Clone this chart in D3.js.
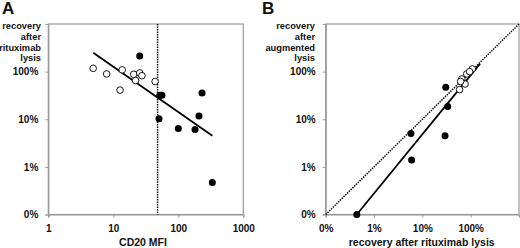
<!DOCTYPE html>
<html><head><meta charset="utf-8">
<script src="https://cdn.jsdelivr.net/npm/d3@7"></script>
<style>
body{margin:0;background:#fff;}
text{font-family:"Liberation Sans",Arial,sans-serif;font-weight:bold;fill:#111;}
</style></head>
<body><svg id="c" width="520" height="248"></svg>
<script>
// Panel A: CD20 MFI vs recovery after rituximab lysis (fraction, 1 = 100%)
const aOpenMFI = [4.9, 7.9, 12.7, 13.7, 20.6, 22, 25.5, 27.6, 44];
const aOpenRec = [1.17, 0.895, 0.41, 1.09, 0.88, 0.65, 0.94, 0.82, 0.62];
const aFilledMFI = [25.5, 52, 56, 232, 50.5, 208, 100, 181, 334];
const aFilledRec = [2.14, 0.32, 0.32, 0.355, 0.102, 0.117, 0.064, 0.061, 0.0047];
const aFitMFI = [4.92, 334];
const aFitRec = [2.48, 0.045];
const aCutoff = 48;
const aXTicks = [1, 10, 100, 1000];
const aXLabels = ["1", "10", "100", "1000"];
const yTicks = [0.001, 0.01, 0.1, 1];
const yLabels = ["0%", "1%", "10%", "100%"];

// Panel B: recovery after rituximab lysis vs after augmented lysis
const bOpenX = [1.08, 0.83, 0.655, 0.766, 0.59, 0.62, 0.95];
const bOpenY = [1.14, 0.895, 0.70, 0.55, 0.42, 0.62, 1.0];
const bFilledX = [0.305, 0.335, 0.058, 0.295, 0.06, 0.0044];
const bFilledY = [0.467, 0.186, 0.050, 0.045, 0.014, 0.001];
const bFitX = [0.0044, 1.57];
const bFitY = [0.001, 1.47];
const bXTicks = [0.001, 0.01, 0.1, 1];
const bXLabels = ["0%", "1%", "10%", "100%"];

const svg = d3.select("#c");

function panel(opts){
  const g = svg.append("g");
  const x = d3.scaleLog().domain(opts.xdom).range(opts.xr);
  const y = d3.scaleLog().domain([0.001, 10]).range([214.5, 24]);
  g.append("rect").attr("x", opts.xr[0]).attr("y", 24)
    .attr("width", opts.xr[1]-opts.xr[0]).attr("height", 214.5-24)
    .attr("fill","none").attr("stroke","#9a9a9a").attr("stroke-width",1.2);
  const ya = g.append("g").attr("transform",`translate(${opts.xr[0]},0)`)
    .call(d3.axisLeft(y).tickValues(yTicks).tickFormat((d,i)=>yLabels[i]).tickSize(3).tickPadding(5));
  const xa = g.append("g").attr("transform",`translate(0,214.5)`)
    .call(d3.axisBottom(x).tickValues(opts.xticks).tickFormat((d,i)=>opts.xlabels[i]).tickSize(3).tickPadding(7));
  [ya,xa].forEach(a=>{
    a.select(".domain").attr("stroke","#9a9a9a").attr("stroke-width",1.2);
    a.selectAll(".tick line").attr("stroke","#9a9a9a");
    a.selectAll("text").attr("font-size",10).attr("font-family","Liberation Sans, Arial, sans-serif").attr("font-weight","bold").attr("fill","#111");
  });
  ya.selectAll("text").attr("dx",-2);
  const yt = g.append("text").attr("text-anchor","end").attr("font-size",9.3);
  opts.ytitle.forEach((t,i)=> yt.append("tspan").attr("x",opts.ytx).attr("y",29+i*10.8).text(t));
  g.append("text").attr("x",opts.xtx).attr("y",246).attr("text-anchor","middle").attr("font-size",10.5).text(opts.xtitle);
  g.append("text").attr("x",opts.lx).attr("y",14).attr("font-size",17).text(opts.letter);
  return {g,x,y};
}

// Panel A
const A = panel({xdom:[1,1000], xr:[48.3,243.3], xticks:aXTicks, xlabels:aXLabels,
  ytitle:["recovery","after","rituximab","lysis"], ytx:41, xtx:143, xtitle:"CD20 MFI", letter:"A", lx:2});
A.g.append("line").attr("x1",A.x(aCutoff)).attr("x2",A.x(aCutoff)).attr("y1",24).attr("y2",214.5)
  .attr("stroke","#111").attr("stroke-width",1.5).attr("stroke-dasharray","1.5,1");
A.g.append("line").attr("x1",A.x(aFitMFI[0])).attr("y1",A.y(aFitRec[0]))
  .attr("x2",A.x(aFitMFI[1])).attr("y2",A.y(aFitRec[1])).attr("stroke","#000").attr("stroke-width",1.8);
A.g.selectAll("circle.o").data(aOpenMFI).join("circle")
  .attr("cx",d=>A.x(d)).attr("cy",(d,i)=>A.y(aOpenRec[i])).attr("r",3.3)
  .attr("fill","#fff").attr("stroke","#000").attr("stroke-width",0.9);
A.g.selectAll("circle.f").data(aFilledMFI).join("circle")
  .attr("cx",d=>A.x(d)).attr("cy",(d,i)=>A.y(aFilledRec[i])).attr("r",3.5).attr("fill","#000");

// Panel B
const B = panel({xdom:[0.001,10], xr:[325.7,519], xticks:bXTicks, xlabels:bXLabels,
  ytitle:["recovery","after","augmented","lysis"], ytx:315, xtx:421.7, xtitle:"recovery after rituximab lysis", letter:"B", lx:262});
B.g.append("line").attr("x1",B.x(0.001)).attr("y1",B.y(0.001)).attr("x2",B.x(10)).attr("y2",B.y(10))
  .attr("stroke","#111").attr("stroke-width",1.5).attr("stroke-dasharray","1.5,1");
B.g.append("line").attr("x1",B.x(bFitX[0])).attr("y1",B.y(bFitY[0]))
  .attr("x2",B.x(bFitX[1])).attr("y2",B.y(bFitY[1])).attr("stroke","#000").attr("stroke-width",1.8);
B.g.selectAll("circle.o").data(bOpenX).join("circle")
  .attr("cx",d=>B.x(d)).attr("cy",(d,i)=>B.y(bOpenY[i])).attr("r",3.3)
  .attr("fill","#fff").attr("stroke","#000").attr("stroke-width",0.9);
B.g.selectAll("circle.f").data(bFilledX).join("circle")
  .attr("cx",d=>B.x(d)).attr("cy",(d,i)=>B.y(bFilledY[i])).attr("r",3.5).attr("fill","#000");
</script></body></html>
